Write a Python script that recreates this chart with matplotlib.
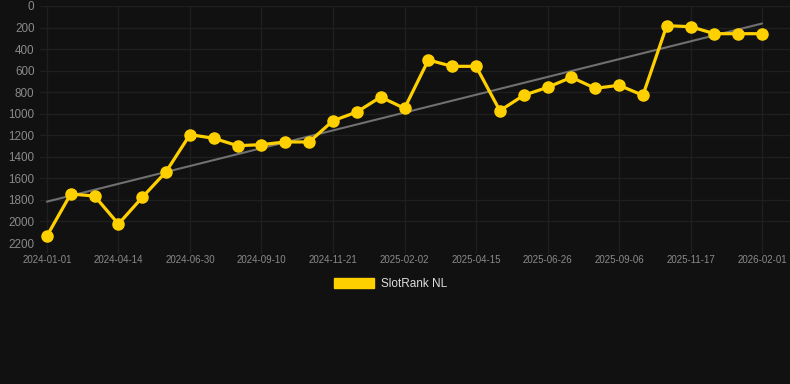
import numpy as np
import matplotlib
matplotlib.use("Agg")
import matplotlib.pyplot as plt
from matplotlib.patches import Patch

plt.rcParams['font.family'] = ['Liberation Sans', 'DejaVu Sans']

# Data (rank values, lower is better; y axis inverted)
ranks = [2135, 1745, 1764, 2024, 1776, 1538, 1194, 1228, 1297, 1287,
         1262, 1262, 1065, 984, 845, 950, 501, 560, 560, 972,
         829, 755, 662, 764, 736, 829, 183, 192, 257, 257, 257]
tick_labels = ["2024-01-01", "2024-04-14", "2024-06-30", "2024-09-10",
               "2024-11-21", "2025-02-02", "2025-04-15", "2025-06-26",
               "2025-09-06", "2025-11-17", "2026-02-01"]
y_ticks = [0, 200, 400, 600, 800, 1000, 1200, 1400, 1600, 1800, 2000, 2200]
series_name = "SlotRank NL"

BG = "#111111"
GRID = "#1f1f1f"
TXT = "#8a8a8a"
YELLOW = "#FFD000"

W, H = 790, 384
fig = plt.figure(figsize=(W / 100, H / 100), dpi=100, facecolor=BG)
left, right, top, bottom = 40, 790, 6, 243
ax = fig.add_axes([left / W, 1 - bottom / H, (right - left) / W, (bottom - top) / H])
ax.set_facecolor(BG)

x = np.arange(len(ranks))
y = np.array(ranks, dtype=float)

# trend line (linear regression)
coef = np.polyfit(x, y, 1)
ax.plot([x[0], x[-1]], np.polyval(coef, [x[0], x[-1]]), color="#707070", lw=1.5,
        zorder=2, solid_capstyle='round')

ax.plot(x, y, color=YELLOW, lw=2.3, marker='o', markersize=8,
        markerfacecolor=YELLOW, markeredgecolor=YELLOW, zorder=3)

ax.set_ylim(2200, 0)
ax.set_xlim(-0.29, 31.17)
ax.set_yticks(y_ticks)
ax.set_yticklabels([str(v) for v in y_ticks])
ax.set_xticks(x[::3])
ax.set_xticklabels(tick_labels)

ax.grid(True, color=GRID, lw=1)
ax.set_axisbelow(True)
for s in ax.spines.values():
    s.set_visible(False)

ax.tick_params(axis='y', length=0, pad=4, labelsize=8.4, labelcolor=TXT)
ax.tick_params(axis='x', length=7, width=1, color=GRID, pad=1.5, labelsize=7, labelcolor=TXT)

handle = Patch(facecolor=YELLOW, edgecolor=YELLOW)
fig.legend([handle], [series_name], loc='center', bbox_to_anchor=(0.494, 1 - 284 / H),
           frameon=False, fontsize=8.5, labelcolor="#dddddd",
           handlelength=3.4, handleheight=0.95, handletextpad=0.6)

fig.savefig("out.png", dpi=100, facecolor=BG)
